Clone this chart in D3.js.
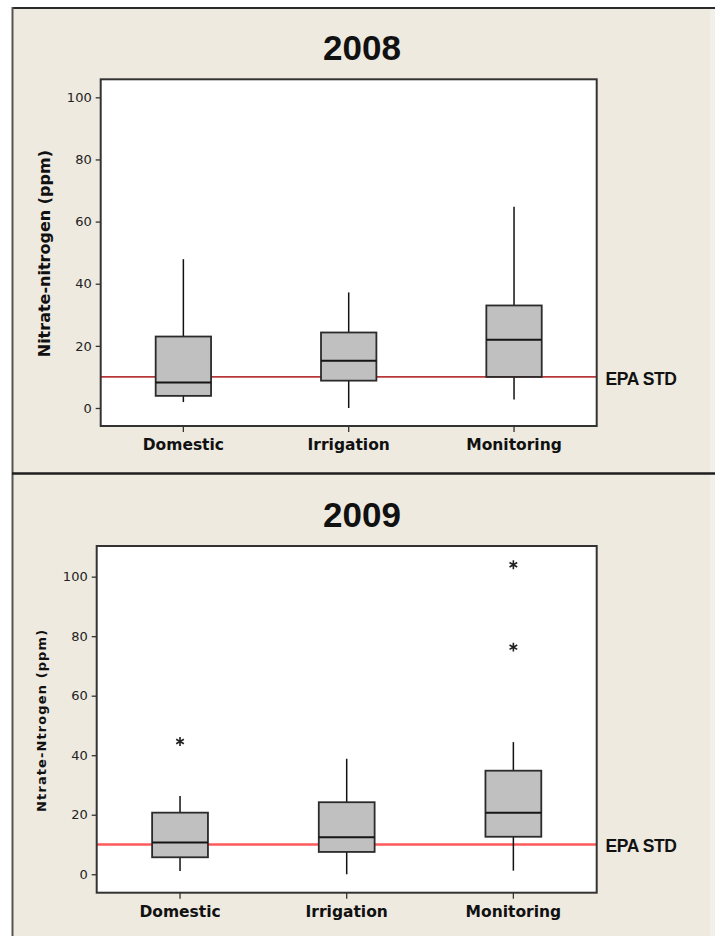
<!DOCTYPE html>
<html>
<head>
<meta charset="utf-8">
<script src="https://cdn.jsdelivr.net/npm/d3@7"></script>
<style>
  html, body { margin: 0; padding: 0; background: #ffffff; }
  svg { display: block; }
</style>
</head>
<body>
<script>
// ---------------- DATA ----------------
const categories = ["Domestic", "Irrigation", "Monitoring"];
const yTicks = [0, 20, 40, 60, 80, 100];
const epaStd = 10;
const epaLabel = "EPA STD";

// 2008
const title2008 = "2008";
const yLabel2008 = "Nitrate-nitrogen (ppm)";
const whiskerLow2008  = [1.9, 0.0, 2.7];
const q1_2008         = [3.9, 8.8, 10.0];
const median2008      = [8.2, 15.2, 22.0];
const q3_2008         = [23.0, 24.3, 33.0];
const whiskerHigh2008 = [47.9, 37.2, 64.8];
const outlierCats2008 = [];
const outlierVals2008 = [];

// 2009
const title2009 = "2009";
const yLabel2009 = "Ntrate-Ntrogen (ppm)";
const whiskerLow2009  = [1.1, 0.0, 1.2];
const q1_2009         = [5.7, 7.5, 12.6];
const median2009      = [10.7, 12.4, 20.7];
const q3_2009         = [20.7, 24.2, 34.8];
const whiskerHigh2009 = [26.3, 38.8, 44.4];
const outlierCats2009 = ["Domestic", "Monitoring", "Monitoring"];
const outlierVals2009 = [44.6, 76.3, 104.0];

// ---------------- LAYOUT ----------------
const W = 715, H = 936;
const svg = d3.select("body").append("svg").attr("width", W).attr("height", H);

svg.append("rect").attr("x", 0).attr("y", 0).attr("width", W).attr("height", H).attr("fill", "#ffffff");
svg.append("rect").attr("x", 12).attr("y", 7).attr("width", 698).attr("height", H - 7).attr("fill", "#eeeae0");
svg.append("rect").attr("x", 710).attr("y", 7).attr("width", 5).attr("height", H - 7).attr("fill", "#f3f0ea");
// borders
svg.append("line").attr("x1", 12).attr("x2", W).attr("y1", 8).attr("y2", 8).attr("stroke", "#2a2a2a").attr("stroke-width", 2);
svg.append("line").attr("x1", 12.5).attr("x2", 12.5).attr("y1", 7).attr("y2", H).attr("stroke", "#555", ).attr("stroke-width", 2);
svg.append("line").attr("x1", 12).attr("x2", W).attr("y1", 473.5).attr("y2", 473.5).attr("stroke", "#1e1e1e").attr("stroke-width", 2.5);

const panels = [
  {
    title: title2008, yLabel: yLabel2008,
    lo: whiskerLow2008, q1: q1_2008, med: median2008, q3: q3_2008, hi: whiskerHigh2008,
    oc: outlierCats2008, ov: outlierVals2008,
    x0: 100.7, x1: 596.7, y0: 79.3, y1: 426, domain: [-5.8, 105.8],
    titleY: 60, yLabelX: 49.5, yLabelSize: 16, yLabelSpacing: 0,
    epaColor: "#b8383a", epaWidth: 1.6, labelY: 450
  },
  {
    title: title2009, yLabel: yLabel2009,
    lo: whiskerLow2009, q1: q1_2009, med: median2009, q3: q3_2009, hi: whiskerHigh2009,
    oc: outlierCats2009, ov: outlierVals2009,
    x0: 96.7, x1: 596.7, y0: 546, y1: 892.7, domain: [-6.2, 110.3],
    titleY: 527, yLabelX: 45.5, yLabelSize: 13, yLabelSpacing: 1.1,
    epaColor: "#ff5a5a", epaWidth: 2.6, labelY: 918
  }
];

panels.forEach(p => {
  const g = svg.append("g");
  const x = d3.scaleBand().domain(categories).range([p.x0, p.x1]).paddingInner(0).paddingOuter(0);
  const y = d3.scaleLinear().domain(p.domain).range([p.y1, p.y0]);
  const boxW = x.bandwidth() * 0.335;

  // plot area
  g.append("rect").attr("x", p.x0).attr("y", p.y0).attr("width", p.x1 - p.x0).attr("height", p.y1 - p.y0)
    .attr("fill", "#ffffff");

  // title
  g.append("text").attr("x", 362).attr("y", p.titleY).attr("text-anchor", "middle")
    .attr("font-family", "'Liberation Sans', Arial, sans-serif").attr("font-weight", "bold")
    .attr("font-size", 35).attr("fill", "#111").text(p.title);

  // y label
  g.append("text")
    .attr("transform", `translate(${p.yLabelX},${(p.y0 + p.y1) / 2 + 1}) rotate(-90)`)
    .attr("text-anchor", "middle")
    .attr("font-family", "'DejaVu Sans', Verdana, sans-serif").attr("font-weight", "bold")
    .attr("font-size", p.yLabelSize).attr("letter-spacing", p.yLabelSpacing)
    .attr("fill", "#111").text(p.yLabel);

  // axes
  const yAxis = g.append("g").attr("transform", `translate(${p.x0},0)`)
    .call(d3.axisLeft(y).tickValues(yTicks).tickSize(5).tickPadding(4).tickFormat(d3.format("d")));
  yAxis.select(".domain").remove();
  yAxis.selectAll("line").attr("stroke", "#333").attr("stroke-width", 1.3);
  yAxis.selectAll("text").attr("font-family", "'DejaVu Sans', Verdana, sans-serif")
    .attr("font-size", 13).attr("fill", "#222");

  const xAxis = g.append("g").attr("transform", `translate(0,${p.y1})`)
    .call(d3.axisBottom(x).tickSize(6).tickPadding(7));
  xAxis.select(".domain").remove();
  xAxis.selectAll("line").attr("stroke", "#333").attr("stroke-width", 1.3);
  xAxis.selectAll("text").attr("font-family", "'DejaVu Sans', Verdana, sans-serif")
    .attr("font-weight", "bold").attr("font-size", 15.5).attr("fill", "#111");

  // EPA line
  g.append("line").attr("x1", p.x0).attr("x2", p.x1).attr("y1", y(epaStd)).attr("y2", y(epaStd))
    .attr("stroke", p.epaColor).attr("stroke-width", p.epaWidth);
  g.append("text").attr("x", 605.5).attr("y", y(epaStd) + 8)
    .attr("font-family", "'Liberation Sans', Arial, sans-serif").attr("font-weight", "bold")
    .attr("font-size", 17.5).attr("letter-spacing", -0.4).attr("fill", "#111").text(epaLabel);

  // boxes
  categories.forEach((c, i) => {
    const cx = x(c) + x.bandwidth() / 2;
    // whiskers
    g.append("line").attr("x1", cx).attr("x2", cx).attr("y1", y(p.q3[i])).attr("y2", y(p.hi[i]))
      .attr("stroke", "#111").attr("stroke-width", 1.5);
    g.append("line").attr("x1", cx).attr("x2", cx).attr("y1", y(p.q1[i])).attr("y2", y(p.lo[i]))
      .attr("stroke", "#111").attr("stroke-width", 1.5);
    // box
    g.append("rect").attr("x", cx - boxW / 2).attr("y", y(p.q3[i]))
      .attr("width", boxW).attr("height", y(p.q1[i]) - y(p.q3[i]))
      .attr("fill", "#c0c0c0").attr("stroke", "#2b2b2b").attr("stroke-width", 1.8);
    // median
    g.append("line").attr("x1", cx - boxW / 2).attr("x2", cx + boxW / 2)
      .attr("y1", y(p.med[i])).attr("y2", y(p.med[i]))
      .attr("stroke", "#151515").attr("stroke-width", 2);
  });

  // outliers
  const sym = d3.symbol().type(d3.symbolAsterisk).size(55);
  p.ov.forEach((v, k) => {
    const cx = x(p.oc[k]) + x.bandwidth() / 2;
    g.append("path").attr("d", sym()).attr("transform", `translate(${cx},${y(v)})`)
      .attr("fill", "none").attr("stroke", "#222").attr("stroke-width", 1.6);
  });

  // frame
  g.append("rect").attr("x", p.x0).attr("y", p.y0).attr("width", p.x1 - p.x0).attr("height", p.y1 - p.y0)
    .attr("fill", "none").attr("stroke", "#333").attr("stroke-width", 2);
});
</script>
</body>
</html>
